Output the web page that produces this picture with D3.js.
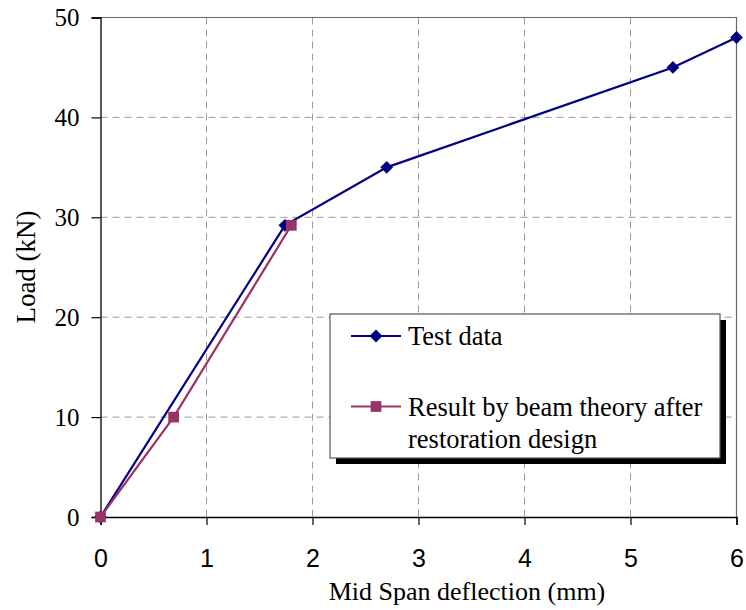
<!DOCTYPE html>
<html>
<head>
<meta charset="utf-8">
<script src="https://cdn.jsdelivr.net/npm/d3@7"></script>
<style>
  body { margin: 0; background: #fff; }
  svg { display: block; }
</style>
</head>
<body>
<div id="plot"></div>
<script>
// values
let testX = [0, 1.74, 2.7, 5.4, 6];
let testY = [0, 29.2, 35, 45, 48];
let theoryX = [0, 0.69, 1.8];
let theoryY = [0, 10, 29.2];
let xTicks = [0, 1, 2, 3, 4, 5, 6];
let yTicks = [0, 10, 20, 30, 40, 50];
let seriesNames = ['Test data', 'Result by beam theory after|restoration design'];

let W = 746, H = 610;
let plotLeft = 100.5, plotRight = 736.5, plotTop = 17.5, plotBottom = 517;

let svg = d3.select('#plot')
    .append('svg')
        .attr('width', W)
        .attr('height', H);

let x = d3.scaleLinear().domain([0, 6]).range([plotLeft, plotRight]);
let y = d3.scaleLinear().domain([0, 50]).range([plotBottom, plotTop]);

let serif = 'Liberation Serif, Times New Roman, serif';
let sans = 'Liberation Sans, Arial, sans-serif';

// dashed grid
svg.append('g')
    .selectAll('line')
    .data(xTicks.filter(d => d > 0 && d < 6))
    .enter()
    .append('line')
        .attr('x1', d => x(d)).attr('x2', d => x(d))
        .attr('y1', plotTop).attr('y2', plotBottom)
        .attr('stroke', '#9a9a9a')
        .attr('stroke-dasharray', '7,5');

svg.append('g')
    .selectAll('line')
    .data(yTicks.filter(d => d > 0 && d < 50))
    .enter()
    .append('line')
        .attr('x1', plotLeft).attr('x2', plotRight)
        .attr('y1', d => y(d)).attr('y2', d => y(d))
        .attr('stroke', '#9a9a9a')
        .attr('stroke-dasharray', '7,5');

// top and right border of the plot area
svg.append('path')
    .attr('d', 'M' + plotLeft + ',' + plotTop + 'H' + plotRight + 'V' + plotBottom)
    .attr('fill', 'none')
    .attr('stroke', '#666')
    .attr('stroke-width', 1.2);

// axes
let xAxis = d3.axisBottom(x).tickValues(xTicks).tickSize(8).tickPadding(24).tickFormat(d3.format('d'));
let gx = svg.append('g')
    .attr('transform', 'translate(0,' + plotBottom + ')')
    .call(xAxis);
gx.select('.domain').attr('stroke', '#000').attr('stroke-width', 1.3);
gx.selectAll('.tick line').attr('stroke', '#000').attr('stroke-width', 1.2);
gx.selectAll('text')
    .style('font-family', sans)
    .style('font-size', '25px')
    .attr('fill', '#000');

let yAxis = d3.axisLeft(y).tickValues(yTicks).tickSize(9).tickPadding(12);
let gy = svg.append('g')
    .attr('transform', 'translate(' + plotLeft + ',0)')
    .call(yAxis);
gy.select('.domain').attr('stroke', '#000').attr('stroke-width', 1.3);
gy.selectAll('.tick line').attr('stroke', '#000').attr('stroke-width', 1.2);
gy.selectAll('text')
    .style('font-family', serif)
    .style('font-size', '25px')
    .attr('fill', '#000');

// axis titles
svg.append('text')
    .attr('x', 467)
    .attr('y', 600)
    .style('text-anchor', 'middle')
    .style('font-family', serif)
    .style('font-size', '26px')
    .text('Mid Span deflection (mm)');

svg.append('text')
    .attr('transform', 'translate(35,' + 267 + ') rotate(-90)')
    .style('text-anchor', 'middle')
    .style('font-family', serif)
    .style('font-size', '27px')
    .text('Load (kN)');

// series
let testData = testX.map((d, i) => ({ x: d, y: testY[i] }));
let theoryData = theoryX.map((d, i) => ({ x: d, y: theoryY[i] }));

let line = d3.line()
    .x(d => x(d.x))
    .y(d => y(d.y));

let navy = '#000080', maroon = '#993366';

svg.append('path')
    .attr('d', line(testData))
    .attr('fill', 'none')
    .attr('stroke', navy)
    .attr('stroke-width', 2.2);

let diamond = d3.symbol().type(d3.symbolDiamond2).size(105);
let square = d3.symbol().type(d3.symbolSquare).size(115);

svg.selectAll('.dia')
    .data(testData)
    .enter()
    .append('path')
        .attr('d', diamond)
        .attr('transform', d => 'translate(' + x(d.x) + ',' + y(d.y) + ')')
        .attr('fill', navy);

svg.append('path')
    .attr('d', line(theoryData))
    .attr('fill', 'none')
    .attr('stroke', maroon)
    .attr('stroke-width', 2.2);

svg.selectAll('.sq')
    .data(theoryData)
    .enter()
    .append('path')
        .attr('d', square)
        .attr('transform', d => 'translate(' + x(d.x) + ',' + y(d.y) + ')')
        .attr('fill', maroon);

// legend
let lg = svg.append('g');
lg.append('rect')
    .attr('x', 336).attr('y', 320)
    .attr('width', 390).attr('height', 144)
    .attr('fill', '#000');
lg.append('rect')
    .attr('x', 330).attr('y', 314)
    .attr('width', 390).attr('height', 144)
    .attr('fill', '#fff')
    .attr('stroke', '#555')
    .attr('stroke-width', 1.2);

let rows = [
    { y: 336, color: navy, sym: diamond, lines: seriesNames[0].split('|') },
    { y: 406.5, color: maroon, sym: square, lines: seriesNames[1].split('|') }
];

rows.forEach(function(r) {
    lg.append('line')
        .attr('x1', 351).attr('x2', 401)
        .attr('y1', r.y).attr('y2', r.y)
        .attr('stroke', r.color)
        .attr('stroke-width', 2);
    lg.append('path')
        .attr('d', r.sym)
        .attr('transform', 'translate(376,' + r.y + ')')
        .attr('fill', r.color);
    let t = lg.append('text')
        .attr('x', 408)
        .attr('y', r.y + 9)
        .style('font-family', serif)
        .style('font-size', '26.5px');
    r.lines.forEach(function(s, i) {
        t.append('tspan')
            .attr('x', 408)
            .attr('dy', i === 0 ? 0 : 32)
            .text(s);
    });
});
</script>
</body>
</html>
